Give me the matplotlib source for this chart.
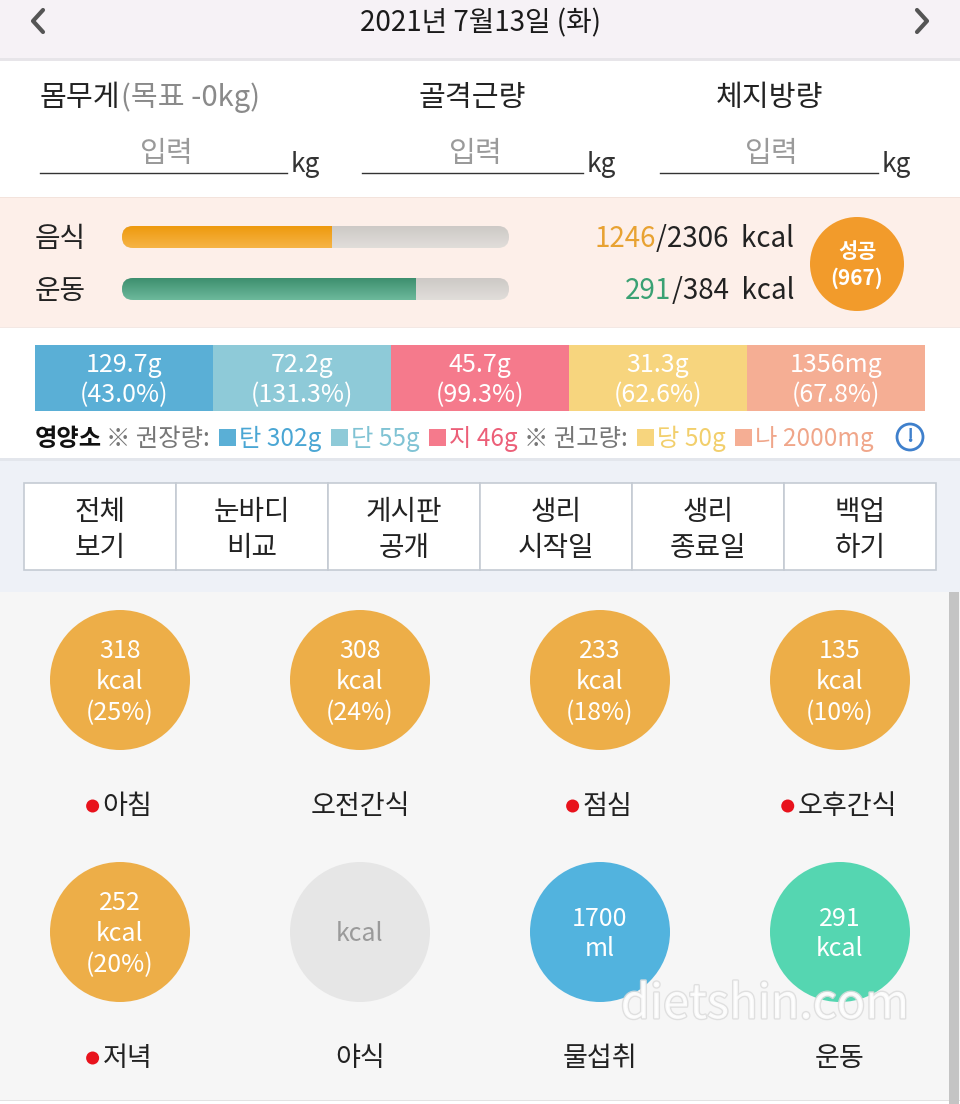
import matplotlib
matplotlib.use("Agg")
import matplotlib.pyplot as plt
import numpy as np
from matplotlib.patches import Rectangle, Circle, FancyBboxPatch
from matplotlib.colors import to_rgb
import matplotlib.patheffects as pe

plt.rcParams['font.family'] = ['Noto Sans CJK KR', 'DejaVu Sans']

# ---- data ----
date_label = "2021년 7월13일 (화)"
body_labels = ["몸무게", "골격근량", "체지방량"]
weight_goal = "(목표 -0kg)"

food_kcal, food_goal = 1246, 2306
burn_kcal, burn_goal = 291, 384
success_kcal = 967

nutrient_amounts = ["129.7g", "72.2g", "45.7g", "31.3g", "1356mg"]
nutrient_pcts = [43.0, 131.3, 99.3, 62.6, 67.8]
nutrient_names = ["탄", "단", "지", "당", "나"]
nutrient_refs = ["302g", "55g", "46g", "50g", "2000mg"]
nutrient_colors = ["#5aafd6", "#8ecad8", "#f57a8c", "#f7d57e", "#f5ae94"]
nutrient_text_colors = ["#4aa6d4", "#80c3d4", "#ec5f78", "#f2cf6c", "#f0a68a"]

buttons = ["전체\n보기", "눈바디\n비교", "게시판\n공개", "생리\n시작일", "생리\n종료일", "백업\n하기"]

meal_names = ["아침", "오전간식", "점심", "오후간식", "저녁", "야식", "물섭취", "운동"]
meal_values = ["318", "308", "233", "135", "252", "", "1700", "291"]
meal_units = ["kcal", "kcal", "kcal", "kcal", "kcal", "kcal", "ml", "kcal"]
meal_pcts = [25, 24, 18, 10, 20, None, None, None]
meal_flags = [True, False, True, True, True, False, False, False]
meal_colors = ["#edae48"] * 5 + ["#e6e6e6", "#52b3de", "#55d6b1"]

W, H = 960, 1104
DY = 2  # nudge: CJK font boxes sit a little high
fig = plt.figure(figsize=(W / 100, H / 100), dpi=100)
ax = fig.add_axes([0, 0, 1, 1])
ax.set_xlim(0, W)
ax.set_ylim(H, 0)
ax.axis("off")
fig.patch.set_facecolor("white")


def band(y0, y1, color, x0=0, x1=W):
    ax.add_patch(Rectangle((x0, y0), x1 - x0, y1 - y0, color=color, lw=0, zorder=0))


def txt(x, y, s, **kw):
    kw.setdefault("va", "center")
    return ax.text(x, y + DY, s, **kw)


def width_of(t):
    r = fig.canvas.get_renderer()
    return t.get_window_extent(renderer=r).width


# ---- backgrounds ----
band(0, 58, "#f6f2f6")
band(58, 61, "#e7e5e9")
band(197, 198, "#f3e3dc")
band(198, 327, "#fdefe9")
band(327, 328, "#f3e8e4")
band(458, 461, "#e3e6ec")
band(461, 592, "#eef1f7")
band(592, 1100, "#f6f6f6")
band(1100, 1101, "#e2e2e2")
band(592, 1104, "#c4c4c4", x0=949, x1=959)

# ---- header ----
txt(480, 21, date_label, ha="center", fontsize=20, color="#1a1a1a")
ax.plot([43, 33, 43], [10, 21, 32], color="#555555", lw=3, solid_capstyle="round",
        solid_joinstyle="round")
ax.plot([917, 927, 917], [10, 21, 32], color="#555555", lw=3, solid_capstyle="round",
        solid_joinstyle="round")

# ---- body composition inputs ----
t = txt(40, 96, body_labels[0], ha="left", fontsize=21, color="#222222")
txt(40 + width_of(t), 96, weight_goal, ha="left", fontsize=21, color="#8a8a8a")
txt(472, 96, body_labels[1], ha="center", fontsize=21, color="#222222")
txt(770, 96, body_labels[2], ha="center", fontsize=21, color="#222222")
for x0, x1 in [(40, 287), (362, 583), (660, 878)]:
    txt((x0 + x1) / 2 + 3, 152, "입력", ha="center", fontsize=21, color="#9a9a9a")
    ax.plot([x0, x1], [173, 173], color="#333333", lw=1)
    txt(x1 + 4, 163, "kg", ha="left", fontsize=19, color="#333333")

# ---- calorie progress bars ----
bar_x0, bar_x1, bar_h = 122, 509, 22


def gradient_bar(xa, xb, yc, top, bottom, clip):
    c0, c1 = np.array(to_rgb(top)), np.array(to_rgb(bottom))
    grad = np.linspace(0, 1, 32)[:, None, None] * (c1 - c0) + c0
    grad = np.repeat(grad, 2, axis=1)
    im = ax.imshow(grad, extent=(xa, xb, yc + bar_h / 2, yc - bar_h / 2), origin="upper",
                   aspect="auto", zorder=2, interpolation="bilinear")
    im.set_clip_path(clip)


for yc, name, val, goal, c_top, c_bot, vcol in [
        (237, "음식", food_kcal, food_goal, "#ee9a0e", "#f6b446", "#e8a232"),
        (289, "운동", burn_kcal, burn_goal, "#3e8f6f", "#6cb99b", "#3aa173")]:
    txt(35, yc, name, ha="left", fontsize=20, color="#222222")
    clip = FancyBboxPatch((bar_x0, yc - bar_h / 2), bar_x1 - bar_x0, bar_h,
                          boxstyle="round,pad=0,rounding_size=11", transform=ax.transData,
                          facecolor="none", edgecolor="none")
    ax.add_patch(clip)
    gradient_bar(bar_x0, bar_x1, yc, "#cdc9c6", "#e1deda", clip)
    xf = bar_x0 + (bar_x1 - bar_x0) * val / goal
    gradient_bar(bar_x0, xf, yc, c_top, c_bot, clip)
    t = txt(794, yc, f"/{goal}  kcal", ha="right", fontsize=20, color="#222222")
    txt(794 - width_of(t), yc, f"{val}", ha="right", fontsize=20, color=vcol)

ax.add_patch(Circle((857, 264), 47, color="#f29b2b", lw=0, zorder=2))
txt(857, 249, "성공", ha="center", fontsize=15, color="white", fontweight="bold", zorder=3)
txt(857, 276, f"({success_kcal})", ha="center", fontsize=15, color="white",
    fontweight="bold", zorder=3)

# ---- nutrient cells ----
cell_x0, cell_w, cell_y0, cell_h = 35, 178, 345, 66
for i, (amt, pct, col) in enumerate(zip(nutrient_amounts, nutrient_pcts, nutrient_colors)):
    x = cell_x0 + i * cell_w
    ax.add_patch(Rectangle((x, cell_y0), cell_w, cell_h, color=col, lw=0, zorder=1))
    txt(x + cell_w / 2, 363, amt, ha="center", fontsize=18, color="white")
    txt(x + cell_w / 2, 393, f"({pct:.1f}%)", ha="center", fontsize=18, color="white")

# legend line
ly, lfs = 437, 17.5
cur = 35
t = txt(cur, ly, "영양소", ha="left", fontsize=lfs, color="#111111", fontweight="bold")
cur += width_of(t) + 4


def legend_piece(s, color):
    global cur
    tt = txt(cur, ly, s, ha="left", fontsize=lfs, color=color)
    cur += width_of(tt)


legend_piece("※ 권장량: ", "#777777")
for i in range(5):
    if i == 3:
        legend_piece("※ 권고량: ", "#777777")
    cur += 4
    ax.add_patch(Rectangle((cur, ly - 8), 17, 17, color=nutrient_colors[i], lw=0))
    cur += 20
    legend_piece(f"{nutrient_names[i]} {nutrient_refs[i]} ", nutrient_text_colors[i])

ax.add_patch(Circle((910, 437), 13, facecolor="none", edgecolor="#3f80cc", lw=2))
txt(910, 435, "!", ha="center", fontsize=14, color="#3f80cc", fontweight="bold")

# ---- buttons ----
btn_x0, btn_w, btn_y0, btn_h = 24, 152, 483, 87
for i, lab in enumerate(buttons):
    x = btn_x0 + i * btn_w
    ax.add_patch(Rectangle((x, btn_y0), btn_w, btn_h, facecolor="white", edgecolor="#c5cbd3",
                           lw=1.2, zorder=1))
    l1, l2 = lab.split("\n")
    txt(x + btn_w / 2, 510, l1, ha="center", fontsize=20, color="#222222")
    txt(x + btn_w / 2, 546, l2, ha="center", fontsize=20, color="#222222")

# ---- meal circles ----
for i, name in enumerate(meal_names):
    cx = 120 + 240 * (i % 4)
    cy = 680 + 252 * (i // 4)
    ax.add_patch(Circle((cx, cy), 70, color=meal_colors[i], lw=0, zorder=1))
    lines = [s for s in [meal_values[i], meal_units[i]] if s]
    if meal_pcts[i] is not None:
        lines.append(f"({meal_pcts[i]}%)")
    tcol = "white" if meal_values[i] else "#9a9a9a"
    n = len(lines)
    for k, s in enumerate(lines):
        txt(cx, cy + (k - (n - 1) / 2) * 31, s, ha="center", fontsize=18, color=tcol, zorder=3)
    ly2 = cy + 125
    if meal_flags[i]:
        tt = txt(0, ly2, name, ha="left", fontsize=19.5, color="#222222")
        w = width_of(tt)
        start = cx - (w + 15) / 2
        tt.set_x(start + 15)
        ax.add_patch(Circle((start + 5, ly2 + 1), 6.5, color="#e8121c", lw=0, zorder=3))
    else:
        txt(cx, ly2, name, ha="center", fontsize=19.5, color="#222222")

# faint watermark, kept clear of the labels
txt(765, 1003, "dietshin.com", ha="center", fontsize=34, color="white", alpha=0.85, zorder=4,
    path_effects=[pe.withStroke(linewidth=2, foreground="#dcdcdc")])

ax.set_xlim(0, W)
ax.set_ylim(H, 0)
fig.savefig("out.png", dpi=100, facecolor="white")
